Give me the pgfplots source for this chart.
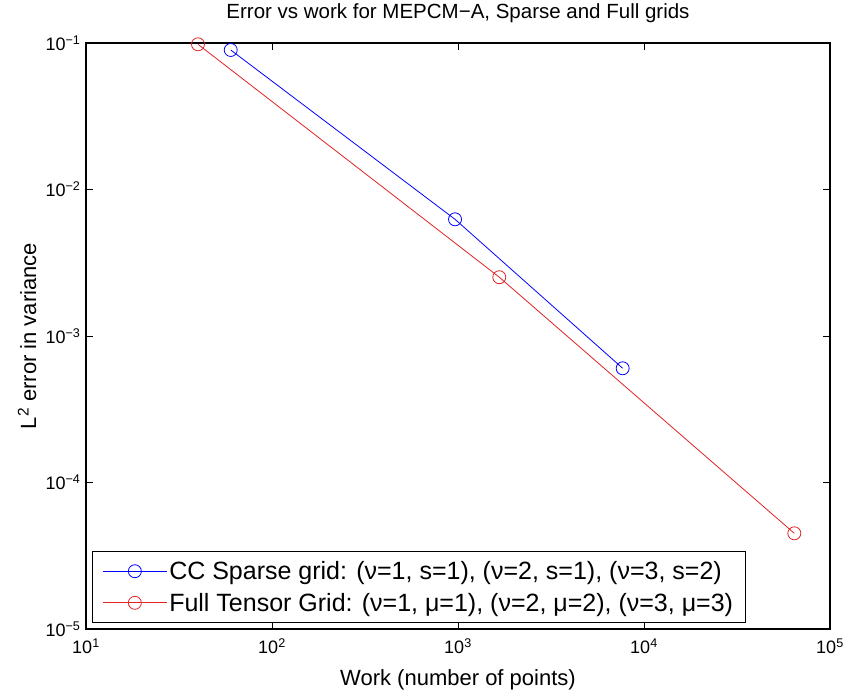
\documentclass[border=0pt]{standalone}
\usepackage{fontspec}
\setmainfont{Liberation Sans}
\usepackage{pgfplots}
\pgfplotsset{compat=1.18}
\definecolor{mred}{RGB}{225,35,35}
\definecolor{mblue}{RGB}{0,0,255}
\begin{document}
\begin{tikzpicture}
\useasboundingbox (-86pt,-63pt) rectangle (758pt,629pt);
\begin{loglogaxis}[
  scale only axis, width=744pt, height=586pt,
  log basis x=10, log basis y=10,
  xmin=10, xmax=1e5, ymin=1e-5, ymax=1e-1,
  axis line style={line width=1.3pt},
  tick align=inside,
  every tick/.style={black, line width=0.9pt},
  major tick length=7pt, minor tick length=4.5pt,
  xtick={10,100,1000,10000,100000},
  ytick={1e-5,1e-4,1e-3,1e-2,1e-1},
  xticklabel={\pgfmathtruncatemacro\e{round(\tick)}10\textsuperscript{\e}},
  yticklabel={\pgfmathtruncatemacro\e{round(\tick)}10\textsuperscript{\ifnum\e<0 −\the\numexpr-\e\relax\else\e\fi}},
  ticklabel style={font=\fontsize{18}{20}\selectfont},
  xticklabel style={yshift=-6pt},
  yticklabel style={xshift=-2pt},
  title={Error vs work for MEPCM−A, Sparse and Full grids},
  title style={font=\fontsize{20.5}{24}\selectfont, at={(axis description cs:0.5,1.040)}, anchor=center},
  xlabel={Work (number of points)},
  xlabel style={font=\fontsize{22}{24}\selectfont, at={(axis description cs:0.5,-0.0965)}, anchor=base},
  ylabel={L\textsuperscript{2} error in variance},
  ylabel style={font=\fontsize{22}{24}\selectfont, at={(axis description cs:-0.0793,0.5)}, anchor=center},
  legend style={at={(axis description cs:0.008,0.01)}, anchor=south west,
    font=\fontsize{25}{27}\selectfont, draw=black, line width=1pt, inner xsep=10pt, inner ysep=8pt, row sep=8pt},
  legend cell align=left,
  legend image code/.code={\draw[mark repeat=2,mark phase=2] plot coordinates {(0pt,0pt) (32pt,0pt) (64pt,0pt)};},
]
\addplot[mblue, line width=0.8pt, mark=o, mark size=6.5pt, mark options={line width=0.8pt}]
  coordinates {(60,0.0896) (964,6.26e-3) (7680,6.02e-4)};
\addlegendentry{CC Sparse grid: (ν=1, s=1), (ν=2, s=1), (ν=3, s=2)}
\addplot[mred, line width=0.8pt, mark=o, mark size=6.5pt, mark options={line width=0.8pt}]
  coordinates {(40,0.098) (1667,2.52e-3) (64300,4.5e-5)};
\addlegendentry{Full Tensor Grid: (ν=1, μ=1), (ν=2, μ=2), (ν=3, μ=3)}
\end{loglogaxis}
\end{tikzpicture}
\end{document}
